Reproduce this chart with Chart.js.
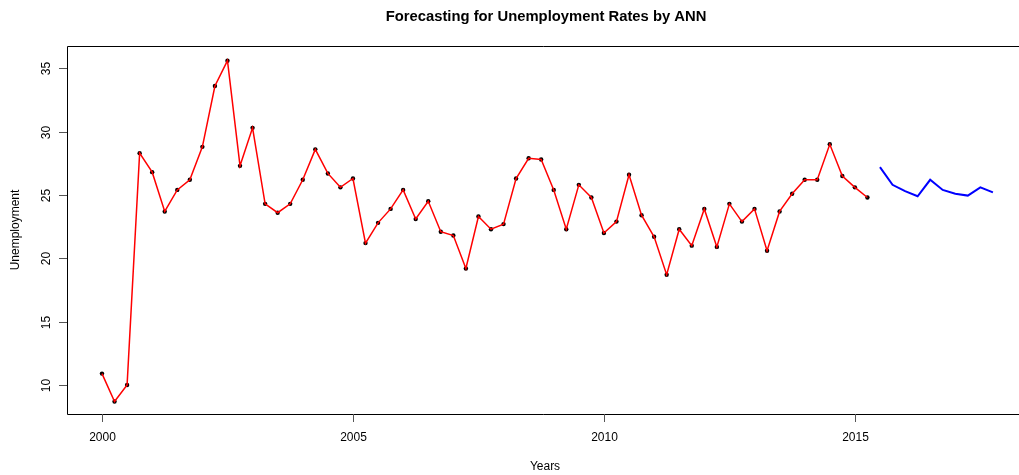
<!DOCTYPE html>
<html>
<head>
<meta charset="utf-8">
<script src="https://cdn.jsdelivr.net/npm/chart.js@4.4.1/dist/chart.umd.min.js"></script>
<style>
html,body{margin:0;padding:0;background:#fff;overflow:hidden;}
#wrap{width:1019px;height:475px;}
</style>
</head>
<body>
<div id="wrap"><canvas id="c" width="1019" height="475"></canvas></div>
<script>
const chartTitle = "Forecasting for Unemployment Rates by ANN";
const xAxisTitle = "Years";
const yAxisTitle = "Unemployment";
const xTicks = [2000, 2005, 2010, 2015];
const yTicks = [10, 15, 20, 25, 30, 35];

const actualTimes = [
  2000.00, 2000.25, 2000.50, 2000.75, 2001.00, 2001.25, 2001.50, 2001.75,
  2002.00, 2002.25, 2002.50, 2002.75, 2003.00, 2003.25, 2003.50, 2003.75,
  2004.00, 2004.25, 2004.50, 2004.75, 2005.00, 2005.25, 2005.50, 2005.75,
  2006.00, 2006.25, 2006.50, 2006.75, 2007.00, 2007.25, 2007.50, 2007.75,
  2008.00, 2008.25, 2008.50, 2008.75, 2009.00, 2009.25, 2009.50, 2009.75,
  2010.00, 2010.25, 2010.50, 2010.75, 2011.00, 2011.25, 2011.50, 2011.75,
  2012.00, 2012.25, 2012.50, 2012.75, 2013.00, 2013.25, 2013.50, 2013.75,
  2014.00, 2014.25, 2014.50, 2014.75, 2015.00, 2015.25
];
const actualValues = [
  10.9, 8.7, 10.0, 28.3, 26.8, 23.7, 25.4, 26.2,
  28.8, 33.6, 35.6, 27.3, 30.3, 24.3, 23.6, 24.3,
  26.2, 28.6, 26.7, 25.6, 26.3, 21.2, 22.8, 23.9,
  25.4, 23.1, 24.5, 22.1, 21.8, 19.2, 23.3, 22.3,
  22.7, 26.3, 27.9, 27.8, 25.4, 22.3, 25.8, 24.8,
  22.0, 22.9, 26.6, 23.4, 21.7, 18.7, 22.3, 21.0,
  23.9, 20.9, 24.3, 22.9, 23.9, 20.6, 23.7, 25.1,
  26.2, 26.2, 29.0, 26.5, 25.6, 24.8
];
const forecastTimes = [2015.50, 2015.75, 2016.00, 2016.25, 2016.50, 2016.75, 2017.00, 2017.25, 2017.50, 2017.75];
const forecastValues = [27.2, 25.8, 25.3, 24.9, 26.2, 25.4, 25.1, 24.95, 25.6, 25.2];

const toXY = (xs, ys) => xs.map((x, i) => ({x: x, y: ys[i]}));

const FONT = '"Liberation Sans", Arial, Helvetica, sans-serif';

const rStyle = {
  id: 'rStyle',
  afterDraw(chart) {
    const ctx = chart.ctx;
    const a = chart.chartArea;
    const xs = chart.scales.x, ys = chart.scales.y;
    ctx.save();
    ctx.strokeStyle = '#000';
    ctx.lineWidth = 1;
    ctx.beginPath();
    ctx.moveTo(chart.width + 2, Math.round(a.top) + 0.5);
    ctx.lineTo(Math.round(a.left) + 0.5, Math.round(a.top) + 0.5);
    ctx.lineTo(Math.round(a.left) + 0.5, Math.round(a.bottom) + 0.5);
    ctx.lineTo(chart.width + 2, Math.round(a.bottom) + 0.5);
    ctx.stroke();
    ctx.fillStyle = '#000';
    ctx.font = '12px ' + FONT;
    ctx.textAlign = 'center';
    ctx.textBaseline = 'middle';
    ctx.strokeStyle = '#555';
    xTicks.forEach(t => {
      const px = Math.round(xs.getPixelForValue(t)) + 0.5;
      ctx.beginPath();
      ctx.moveTo(px, a.bottom);
      ctx.lineTo(px, a.bottom + 8);
      ctx.stroke();
      ctx.fillText(String(t), px, a.bottom + 24);
    });
    yTicks.forEach(t => {
      const py = Math.round(ys.getPixelForValue(t)) + 0.5;
      ctx.beginPath();
      ctx.moveTo(a.left - 8, py);
      ctx.lineTo(a.left, py);
      ctx.stroke();
      ctx.save();
      ctx.translate(a.left - 20, py);
      ctx.rotate(-Math.PI / 2);
      ctx.fillText(String(t), 0, 0);
      ctx.restore();
    });
    ctx.fillText(xAxisTitle, 545, 467);
    ctx.save();
    ctx.translate(16, (a.top + a.bottom) / 2);
    ctx.rotate(-Math.PI / 2);
    ctx.fillText(yAxisTitle, 0, 0);
    ctx.restore();
    ctx.font = 'bold 14.8px ' + FONT;
    ctx.fillText(chartTitle, 546, 17);
    ctx.restore();
  }
};

new Chart(document.getElementById('c'), {
  type: 'scatter',
  data: {
    datasets: [
      {
        label: 'actual line',
        data: toXY(actualTimes, actualValues),
        showLine: true,
        borderColor: '#ff0000',
        borderWidth: 1.5,
        pointRadius: 0,
        tension: 0,
        fill: false
      },
      {
        label: 'actual points',
        data: toXY(actualTimes, actualValues),
        showLine: false,
        pointRadius: 2.2,
        pointBackgroundColor: '#000',
        pointBorderColor: '#000',
        pointBorderWidth: 0
      },
      {
        label: 'forecast',
        data: toXY(forecastTimes, forecastValues),
        showLine: true,
        borderColor: '#0000ff',
        borderWidth: 2,
        pointRadius: 0,
        tension: 0,
        fill: false
      }
    ]
  },
  options: {
    responsive: false,
    devicePixelRatio: 1,
    animation: false,
    layout: { padding: { top: 46, right: 0, left: 0, bottom: 0 } },
    plugins: { legend: { display: false }, tooltip: { enabled: false }, title: { display: false } },
    scales: {
      x: {
        type: 'linear',
        min: 1999.303,
        max: 2018.19,
        grid: { display: false },
        border: { display: false },
        ticks: { display: false },
        afterFit: s => { s.height = 61; }
      },
      y: {
        type: 'linear',
        min: 7.71,
        max: 36.76,
        grid: { display: false },
        border: { display: false },
        ticks: { display: false },
        afterFit: s => { s.width = 67; }
      }
    }
  },
  plugins: [rStyle]
});
</script>
</body>
</html>
